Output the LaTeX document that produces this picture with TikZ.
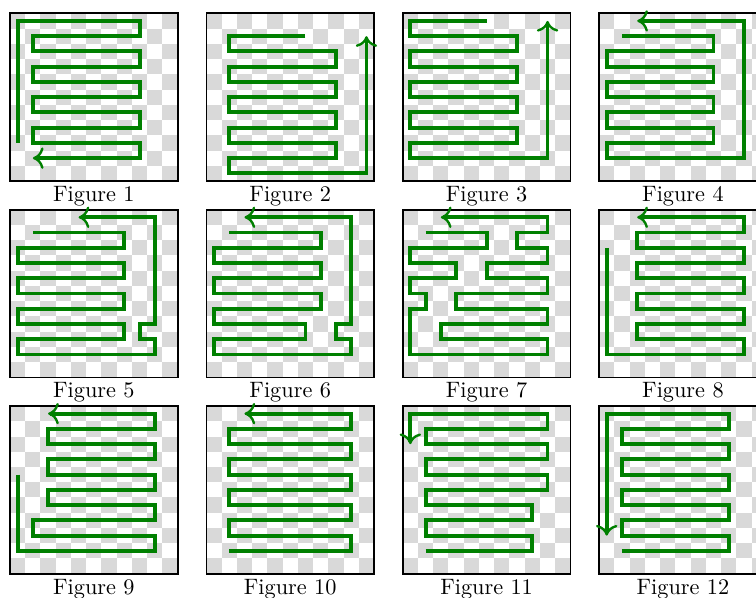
\documentclass[tikz,border=0pt]{standalone}
\usepackage{tikz}
\usetikzlibrary{positioning,arrows.meta}
\tikzset{
  board/.style 2 args={xshift=#1*3.22cm, yshift=-#2*3.22cm, x=0.25cm, y=-0.25cm, shift={(0.5,0.5)}},
  darkcell/.style={fill=gray!30},
  boardframe/.style={draw=black, thick},
  route/.style={draw=green!50!black, line width=1.8pt, -{To[length=5pt, width=10pt, line width=1.1pt]}},
  figlabel/.style={anchor=base, inner sep=0pt, font=\fontsize{10.4}{12}\selectfont}
}
\begin{document}
\begin{tikzpicture}
  \useasboundingbox (-0.164,0.218) rectangle (12.233,-9.572);
  % checkerboards, frames and captions
  \foreach \n/\c/\r in {1/0/0,2/1/0,3/2/0,4/3/0,5/0/1,6/1/1,7/2/1,8/3/1,9/0/2,10/1/2,11/2/2,12/3/2}{
    \begin{scope}[board={\c}{\r}]
      \foreach \i in {0,...,10}{
        \foreach \j in {0,...,10}{
          \ifodd\numexpr\i+\j\relax\else
            \fill[darkcell] (\i-0.5,\j-0.5) rectangle ++(1,1);
          \fi
        }
      }
      \draw[boardframe] (-0.5,-0.5) rectangle (10.5,10.5);
      \node[figlabel] (fig\n) at (5,11.85) {Figure \n};
    \end{scope}
  }
  % Figure 1
  \begin{scope}[board={0}{0}]
    \draw[route] (0,8) -- (0,0) -- (8,0) -- (8,1) -- (1,1) -- (1,2) -- (8,2) -- (8,3) -- (1,3) -- (1,4) -- (8,4) -- (8,5) -- (1,5) -- (1,6) -- (8,6) -- (8,7) -- (1,7) -- (1,8) -- (8,8) -- (8,9) -- (1,9);
  \end{scope}
  % Figure 2
  \begin{scope}[board={1}{0}]
    \draw[route] (6,1) -- (1,1) -- (1,2) -- (8,2) -- (8,3) -- (1,3) -- (1,4) -- (8,4) -- (8,5) -- (1,5) -- (1,6) -- (8,6) -- (8,7) -- (1,7) -- (1,8) -- (8,8) -- (8,9) -- (1,9) -- (1,10) -- (10,10) -- (10,1);
  \end{scope}
  % Figure 3
  \begin{scope}[board={2}{0}]
    \draw[route] (5,0) -- (0,0) -- (0,1) -- (7,1) -- (7,2) -- (0,2) -- (0,3) -- (7,3) -- (7,4) -- (0,4) -- (0,5) -- (7,5) -- (7,6) -- (0,6) -- (0,7) -- (7,7) -- (7,8) -- (0,8) -- (0,9) -- (9,9) -- (9,0);
  \end{scope}
  % Figure 4
  \begin{scope}[board={3}{0}]
    \draw[route] (1,1) -- (7,1) -- (7,2) -- (0,2) -- (0,3) -- (7,3) -- (7,4) -- (0,4) -- (0,5) -- (7,5) -- (7,6) -- (0,6) -- (0,7) -- (7,7) -- (7,8) -- (0,8) -- (0,9) -- (9,9) -- (9,0) -- (2,0);
  \end{scope}
  % Figure 5
  \begin{scope}[board={0}{1}]
    \draw[route] (1,1) -- (7,1) -- (7,2) -- (0,2) -- (0,3) -- (7,3) -- (7,4) -- (0,4) -- (0,5) -- (7,5) -- (7,6) -- (0,6) -- (0,7) -- (7,7) -- (7,8) -- (0,8) -- (0,9) -- (9,9) -- (9,8) -- (8,8) -- (8,7) -- (9,7) -- (9,0) -- (4,0);
  \end{scope}
  % Figure 6
  \begin{scope}[board={1}{1}]
    \draw[route] (1,1) -- (7,1) -- (7,2) -- (0,2) -- (0,3) -- (7,3) -- (7,4) -- (0,4) -- (0,5) -- (7,5) -- (7,6) -- (0,6) -- (0,7) -- (6,7) -- (6,8) -- (0,8) -- (0,9) -- (9,9) -- (9,8) -- (8,8) -- (8,7) -- (9,7) -- (9,0) -- (2,0);
  \end{scope}
  % Figure 7
  \begin{scope}[board={2}{1}]
    \draw[route] (1,1) -- (5,1) -- (5,2) -- (0,2) -- (0,3) -- (3,3) -- (3,4) -- (0,4) -- (0,5) -- (1,5) -- (1,6) -- (0,6) -- (0,9) -- (9,9) -- (9,8) -- (2,8) -- (2,7) -- (9,7) -- (9,6) -- (3,6) -- (3,5) -- (9,5) -- (9,4) -- (5,4) -- (5,3) -- (9,3) -- (9,2) -- (7,2) -- (7,1) -- (9,1) -- (9,0) -- (2,0);
  \end{scope}
  % Figure 8
  \begin{scope}[board={3}{1}]
    \draw[route] (0,2) -- (0,9) -- (9,9) -- (9,8) -- (2,8) -- (2,7) -- (9,7) -- (9,6) -- (2,6) -- (2,5) -- (9,5) -- (9,4) -- (2,4) -- (2,3) -- (9,3) -- (9,2) -- (2,2) -- (2,1) -- (9,1) -- (9,0) -- (2,0);
  \end{scope}
  % Figure 9
  \begin{scope}[board={0}{2}]
    \draw[route] (0,4) -- (0,9) -- (9,9) -- (9,8) -- (1,8) -- (1,7) -- (9,7) -- (9,6) -- (2,6) -- (2,5) -- (9,5) -- (9,4) -- (2,4) -- (2,3) -- (9,3) -- (9,2) -- (2,2) -- (2,1) -- (9,1) -- (9,0) -- (2,0);
  \end{scope}
  % Figure 10
  \begin{scope}[board={1}{2}]
    \draw[route] (1,9) -- (9,9) -- (9,8) -- (1,8) -- (1,7) -- (9,7) -- (9,6) -- (1,6) -- (1,5) -- (9,5) -- (9,4) -- (1,4) -- (1,3) -- (9,3) -- (9,2) -- (1,2) -- (1,1) -- (9,1) -- (9,0) -- (2,0);
  \end{scope}
  % Figure 11
  \begin{scope}[board={2}{2}]
    \draw[route] (1,9) -- (8,9) -- (8,8) -- (1,8) -- (1,7) -- (8,7) -- (8,6) -- (1,6) -- (1,5) -- (9,5) -- (9,4) -- (1,4) -- (1,3) -- (9,3) -- (9,2) -- (1,2) -- (1,1) -- (9,1) -- (9,0) -- (0,0) -- (0,2);
  \end{scope}
  % Figure 12
  \begin{scope}[board={3}{2}]
    \draw[route] (1,9) -- (8,9) -- (8,8) -- (1,8) -- (1,7) -- (8,7) -- (8,6) -- (1,6) -- (1,5) -- (8,5) -- (8,4) -- (1,4) -- (1,3) -- (8,3) -- (8,2) -- (1,2) -- (1,1) -- (8,1) -- (8,0) -- (0,0) -- (0,8);
  \end{scope}
\end{tikzpicture}
\end{document}
